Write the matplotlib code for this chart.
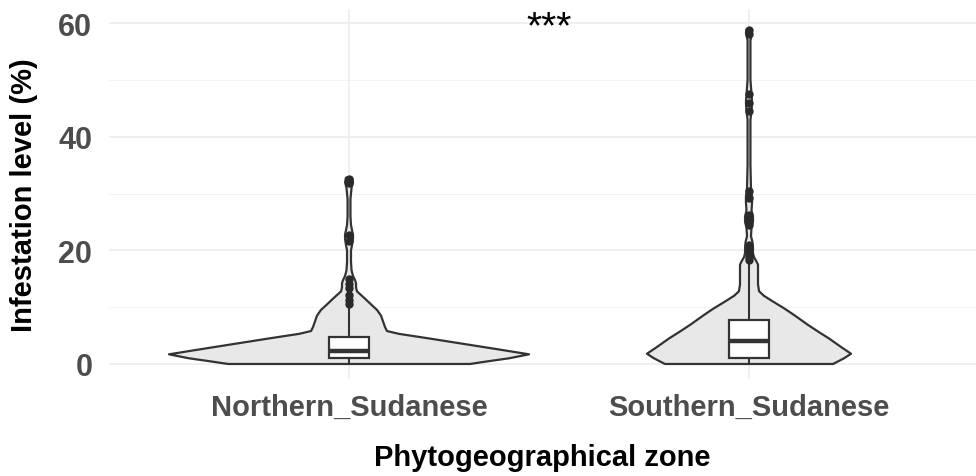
import numpy as np
import matplotlib
matplotlib.use("Agg")
import matplotlib.pyplot as plt

plt.rcParams["font.family"] = ["Liberation Sans", "DejaVu Sans"]

# ---- data -------------------------------------------------------------
zones = ["Northern_Sudanese", "Southern_Sudanese"]

# violin profiles: infestation level and relative density (trimmed at data range)
north_levels = [0, 0.5, 1.0, 1.7, 2.5, 3.5, 4.5, 5.3, 5.8, 6.5, 7.5, 8.5, 9.5,
                10.5, 11.5, 12.3, 12.8, 13.5, 14.2, 14.8, 15.5, 16.5, 18, 20,
                21, 22, 22.8, 23.5, 24.5, 26, 29, 31, 32, 32.8]
north_density = [0.672, 0.778, 0.889, 1.0, 0.844, 0.644, 0.444, 0.278, 0.211,
                 0.200, 0.189, 0.178, 0.156, 0.122, 0.089, 0.061, 0.044, 0.039,
                 0.039, 0.033, 0.022, 0.014, 0.011, 0.011, 0.017, 0.022, 0.022,
                 0.017, 0.011, 0.008, 0.008, 0.014, 0.022, 0.017]

south_levels = [0, 1.0, 1.8, 3, 4.5, 5.6, 7, 8.5, 9.7, 11, 12, 12.8, 14, 16,
                17.5, 18.2, 18.8, 19.5, 20.5, 21.5, 22.5, 24, 25, 26, 27, 28.5,
                29.5, 31, 35, 43, 44.5, 46, 47.5, 50, 57, 58.3, 58.9]
south_density = [0.467, 0.528, 0.567, 0.511, 0.444, 0.389, 0.322, 0.256, 0.200,
                 0.133, 0.083, 0.056, 0.050, 0.050, 0.050, 0.039, 0.028, 0.022,
                 0.022, 0.019, 0.011, 0.014, 0.022, 0.022, 0.014, 0.017, 0.017,
                 0.011, 0.008, 0.008, 0.014, 0.017, 0.014, 0.008, 0.008, 0.017,
                 0.014]

# box-plot statistics: lower whisker, Q1, median, Q3, upper whisker
north_box = [0.0, 1.0, 2.3, 4.7, 10.2]
south_box = [0.0, 1.0, 4.0, 7.7, 17.5]

north_outliers = [10.6, 11.3, 12.1, 13.4, 14.1, 14.9, 21.7, 22.7, 31.9, 32.6]
south_outliers = [18.3, 18.8, 19.4, 20.3, 21.0, 24.4, 25.4, 26.2, 29.3, 30.5,
                  44.5, 46.0, 47.5, 58.1, 58.8]

signif_label = "***"

# ---- figure -----------------------------------------------------------
fig = plt.figure(figsize=(9.76, 4.77), dpi=100)
ax = fig.add_axes([0.1117, 0.2027, 0.8883, 0.7763])
ax.set_xlim(0.4, 2.5675)
ax.set_ylim(-2.7, 62.5)

# grid in a minimal theme
for v in [0, 20, 40, 60]:
    ax.axhline(v, color="#EBEBEB", lw=1.1, zorder=0)
for v in [10, 30, 50]:
    ax.axhline(v, color="#F3F3F3", lw=0.7, zorder=0)
for v in [1, 2]:
    ax.axvline(v, color="#EBEBEB", lw=1.1, zorder=0)

violin_half = 0.45
box_half = 0.05
line_col = "#333333"

groups = [
    (north_levels, north_density, north_box, north_outliers),
    (south_levels, south_density, south_box, south_outliers),
]
for i, (lev, dens, bx, outl) in enumerate(groups):
    pos = i + 1
    lev = np.asarray(lev, float)
    hw = np.asarray(dens, float) * violin_half
    xs = np.concatenate([pos - hw, (pos + hw)[::-1]])
    ys = np.concatenate([lev, lev[::-1]])
    ax.fill(xs, ys, facecolor="#E8E8E8", edgecolor=line_col, lw=1.6,
            joinstyle="round", zorder=2)

    lo, q1, med, q3, hi = bx
    ax.plot([pos, pos], [q3, hi], color=line_col, lw=1.5, zorder=3)
    ax.plot([pos, pos], [lo, q1], color=line_col, lw=1.5, zorder=3)
    ax.add_patch(plt.Rectangle((pos - box_half, q1), 2 * box_half, q3 - q1,
                               facecolor="white", edgecolor=line_col, lw=1.6,
                               zorder=4))
    ax.plot([pos - box_half, pos + box_half], [med, med], color=line_col,
            lw=3.2, solid_capstyle="butt", zorder=5)
    ax.plot([pos] * len(outl), outl, "o", color="#2A2A2A", ms=5, zorder=6)

ax.text(1.5, 59.2, signif_label, ha="center", va="center", fontsize=28,
        color="black")

for s in ax.spines.values():
    s.set_visible(False)
ax.set_xticks([1, 2])
ax.set_xticklabels(zones)
ax.set_yticks([0, 20, 40, 60])
ax.tick_params(axis="both", length=0)
ax.tick_params(axis="x", labelsize=21, pad=10, labelcolor="#4D4D4D")
ax.tick_params(axis="y", labelsize=22, pad=12, labelcolor="#4D4D4D")
for lab in ax.get_xticklabels() + ax.get_yticklabels():
    lab.set_fontweight("bold")

ax.set_xlabel("Phytogeographical zone", fontsize=21, fontweight="bold",
              color="black", labelpad=16)
ax.set_ylabel("Infestation level (%)", fontsize=21, fontweight="bold",
              color="black", labelpad=15)

fig.savefig("out.png", dpi=100, facecolor="white")
